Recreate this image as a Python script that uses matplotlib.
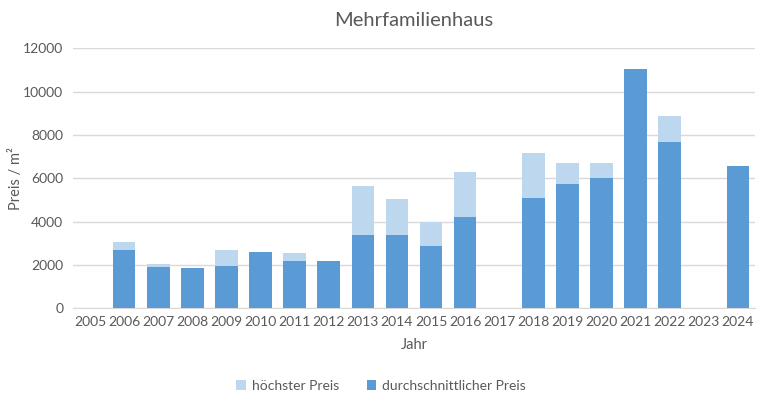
import numpy as np
import matplotlib
matplotlib.use("Agg")
import matplotlib.pyplot as plt

jahre = [str(j) for j in range(2005, 2025)]
hoechster_preis = [np.nan, 3050, 2020, np.nan, 2680, np.nan, 2540, np.nan, 5640, 5040,
                   4000, 6280, np.nan, 7160, 6700, 6700, np.nan, 8870, np.nan, np.nan]
durchschnitt_preis = [np.nan, 2680, 1890, 1850, 1940, 2590, 2170, 2170, 3370, 3370,
                      2860, 4200, np.nan, 5080, 5730, 6010, 11040, 7670, np.nan, 6560]

text_col = "#595959"
plt.rcParams['font.family'] = ['Lato', 'DejaVu Sans']

fig = plt.figure(figsize=(7.62, 4.03), dpi=100)
ax = fig.add_axes([0.0958, 0.2357, 0.895, 0.644])

x = np.arange(len(jahre))
ax.bar(x, hoechster_preis, width=0.66, color="#BDD7EE", label="höchster Preis", zorder=2)
ax.bar(x, durchschnitt_preis, width=0.66, color="#5B9BD5", label="durchschnittlicher Preis", zorder=3)

ax.set_xlim(-0.5, len(jahre) - 0.5)
ax.set_ylim(0, 12000)
ax.set_yticks(range(0, 12001, 2000))
ax.set_xticks(x)
ax.set_xticklabels(jahre)
ax.grid(axis="y", color="#D9D9D9", linewidth=1, zorder=0)
ax.set_axisbelow(True)
for s in ["top", "right", "left"]:
    ax.spines[s].set_visible(False)
ax.spines["bottom"].set_color("#D9D9D9")
ax.tick_params(length=0, labelsize=10, colors=text_col, pad=6)
ax.tick_params(axis="y", pad=7)

ax.set_title("Mehrfamilienhaus", fontsize=14.5, color=text_col, pad=16)
ax.set_xlabel("Jahr", fontsize=10.5, color=text_col, labelpad=7)
ax.set_ylabel("Preis / m²", fontsize=10.5, color=text_col)
ax.yaxis.set_label_coords(-0.073, 0.5)

fig.legend(loc="center", bbox_to_anchor=(0.5, 0.043), ncol=2, frameon=False,
           fontsize=10, labelcolor=text_col, handlelength=0.7, handleheight=0.7,
           handletextpad=0.4, columnspacing=2.0)

fig.savefig("out.png", dpi=100)
